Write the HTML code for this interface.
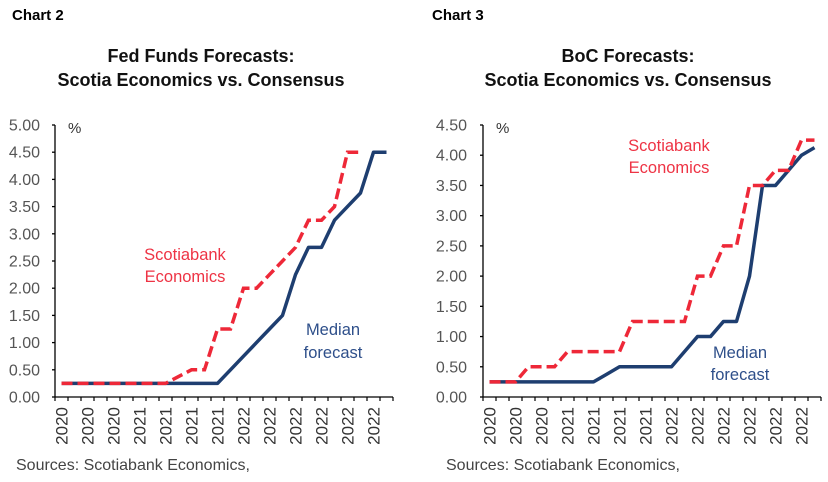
<!DOCTYPE html>
<html><head><meta charset="utf-8"><style>
body{margin:0;background:#fff;width:828px;height:482px;overflow:hidden}
svg{display:block;font-family:"Liberation Sans",sans-serif}
</style></head><body>
<svg id="s" width="828" height="482" viewBox="0 0 828 482">
<text x="12" y="20" font-size="15" font-weight="bold" fill="#000">Chart 2</text>
<text x="432" y="20" font-size="15" font-weight="bold" fill="#000">Chart 3</text>
<text x="201" y="62" font-size="18" font-weight="bold" text-anchor="middle" fill="#111">Fed Funds Forecasts:</text>
<text x="201" y="86" font-size="18" font-weight="bold" text-anchor="middle" fill="#111">Scotia Economics vs. Consensus</text>
<text x="628" y="62" font-size="18" font-weight="bold" text-anchor="middle" fill="#111">BoC Forecasts:</text>
<text x="628" y="86" font-size="18" font-weight="bold" text-anchor="middle" fill="#111">Scotia Economics vs. Consensus</text>
<text x="16" y="470" font-size="16" fill="#444">Sources: Scotiabank Economics,</text>
<text x="446" y="470" font-size="16" fill="#444">Sources: Scotiabank Economics,</text>
<text x="185" y="260" font-size="16.5" text-anchor="middle" fill="#ee3344">Scotiabank</text>
<text x="185" y="282" font-size="16.5" text-anchor="middle" fill="#ee3344">Economics</text>
<text x="333" y="335" font-size="16.5" text-anchor="middle" fill="#2e4f8a">Median</text>
<text x="333" y="358" font-size="16.5" text-anchor="middle" fill="#2e4f8a">forecast</text>
<text x="669" y="151" font-size="16.5" text-anchor="middle" fill="#ee3344">Scotiabank</text>
<text x="669" y="173" font-size="16.5" text-anchor="middle" fill="#ee3344">Economics</text>
<text x="740" y="358" font-size="16.5" text-anchor="middle" fill="#2e4f8a">Median</text>
<text x="740" y="380" font-size="16.5" text-anchor="middle" fill="#2e4f8a">forecast</text>
</svg>
<script>
var s=document.getElementById('s'),NS='http://www.w3.org/2000/svg';
function el(t,a,txt){var e=document.createElementNS(NS,t);for(var k in a)e.setAttribute(k,a[k]);if(txt)e.textContent=txt;s.appendChild(e);return e;}
var years=['2020','2020','2020','2021','2021','2021','2021','2022','2022','2022','2022','2022','2022'];
function chart(x0,max,ylabX,red,blue){
 var y0=397,top=125,sc=(y0-top)/max;
 for(var v=0;v<=max+1e-9;v+=0.5){var y=y0-v*sc;
  el('text',{x:ylabX,y:y+5.5,'font-size':16,'text-anchor':'end',fill:'#555'},v.toFixed(2));
  el('line',{x1:x0-3,x2:x0,y1:y,y2:y,stroke:'#000','stroke-width':1.3});}
 el('line',{x1:x0,x2:x0,y1:top,y2:y0,stroke:'#000','stroke-width':1.3});
 el('line',{x1:x0,x2:x0+338,y1:y0,y2:y0,stroke:'#000','stroke-width':1.3});
 for(var i=0;i<=26;i++)el('line',{x1:x0+13*i,x2:x0+13*i,y1:y0,y2:y0+4,stroke:'#000','stroke-width':1.2});
 el('text',{x:x0+13,y:top+8,'font-size':15,fill:'#333'},'%');
 for(var j=0;j<13;j++){var cx=x0+6.5+26*j+6;
  el('text',{x:0,y:0,'font-size':17,fill:'#333','text-anchor':'end',transform:'translate('+cx+',407) rotate(-90)'},years[j]);}
 function pts(d){return d.map(function(v,i){return (x0+6.5+13*i)+','+(y0-v*sc)}).join(' ');}
 el('polyline',{points:pts(blue),fill:'none',stroke:'#1e3e70','stroke-width':3.5,'stroke-linejoin':'round'});
 el('polyline',{points:pts(red),fill:'none',stroke:'#ee2838','stroke-width':3.5,'stroke-dasharray':'11 5'});
}
chart(55,5,40,
 [.25,.25,.25,.25,.25,.25,.25,.25,.25,.375,.5,.5,1.25,1.25,2,2,2.25,2.5,2.75,3.25,3.25,3.5,4.5,4.5],
 [.25,.25,.25,.25,.25,.25,.25,.25,.25,.25,.25,.25,.25,.5,.75,1,1.25,1.5,2.25,2.75,2.75,3.25,3.5,3.75,4.5,4.5]);
chart(483,4.5,467,
 [.25,.25,.25,.5,.5,.5,.75,.75,.75,.75,.75,1.25,1.25,1.25,1.25,1.25,2,2,2.5,2.5,3.5,3.5,3.75,3.75,4.25,4.25],
 [.25,.25,.25,.25,.25,.25,.25,.25,.25,.375,.5,.5,.5,.5,.5,.75,1,1,1.25,1.25,2,3.5,3.5,3.75,4,4.125]);
</script>
</body></html>
